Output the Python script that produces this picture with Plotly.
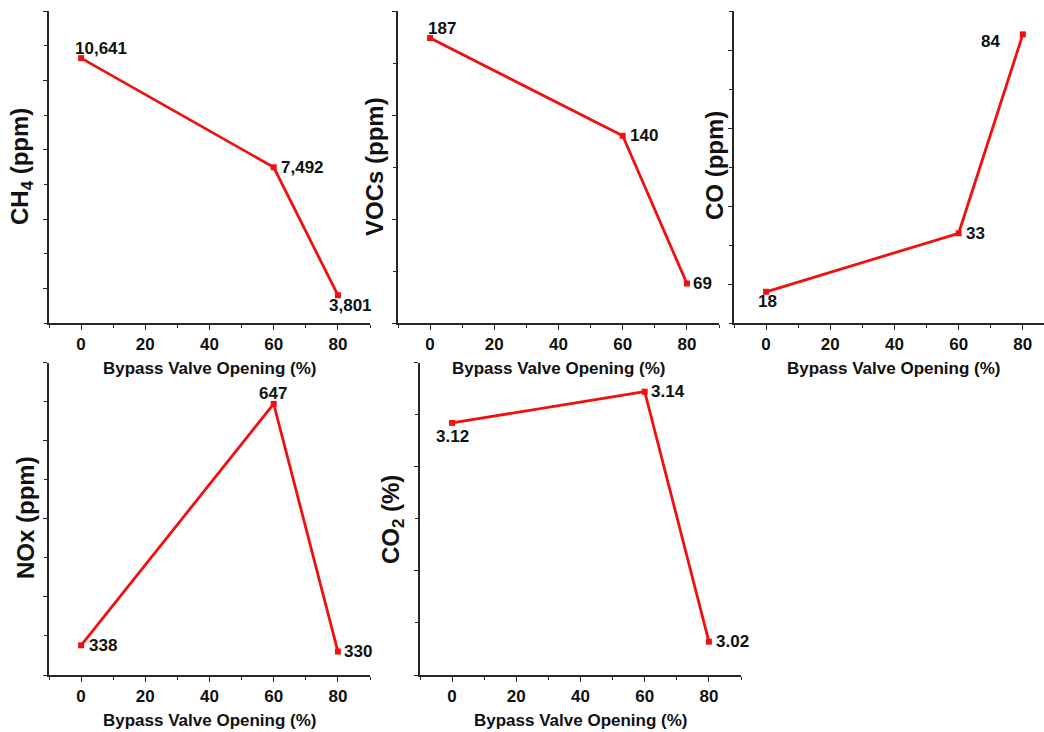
import plotly.graph_objects as go

W, H = 1044, 732

opening = [0, 60, 80]
ch4 = [10641, 7492, 3801]
vocs = [187, 140, 69]
co = [18, 33, 84]
nox = [338, 647, 330]
co2 = [3.121, 3.136, 3.016]

x_tick_vals = [0, 20, 40, 60, 80]
x_tick_text = ["0", "20", "40", "60", "80"]

FONT = "Arial, Liberation Sans, sans-serif"
RED = "#f01010"
AX = "#262626"

def px_x(p):
    return p / W

def px_y(p):
    return 1 - p / H

panels = [
    dict(y=ch4, title="CH<sub>4</sub> (ppm)", xd=(49, 370), yd=(11, 323), xr=[-10, 90], yr=[3000, 12000],
         major=2000, minor=1000, tick0=0, off=[(20, -10), (29, 0), (13, 10)], fmt=lambda v: f"{v:,}",
         tpos=(22, 167)),
    dict(y=vocs, title="VOCs (ppm)", xd=(398, 719), yd=(11, 323), xr=[-10, 90], yr=[50, 200],
         major=50, minor=25, tick0=0, off=[(12, -10), (21, 0), (16, 0)], fmt=lambda v: f"{v}",
         tpos=(375, 167)),
    dict(y=co, title="CO (ppm)", xd=(734, 1044), yd=(11, 323), xr=[-10, 86.6], yr=[10, 90],
         major=20, minor=10, tick0=0, off=[(1, 10), (17, 0), (-32, 7)], fmt=lambda v: f"{v}",
         tpos=(714, 166)),
    dict(y=nox, title="NOx (ppm)", xd=(49, 370), yd=(362.5, 675), xr=[-10, 90], yr=[300, 700],
         major=100, minor=50, tick0=0, off=[(22, 0), (-1, -10), (20, 0)], fmt=lambda v: f"{v}",
         tpos=(25, 518)),
    dict(y=co2, title="CO<sub>2</sub> (%)", xd=(420, 741), yd=(362.5, 675), xr=[-10, 90], yr=[3.0, 3.15],
         major=0.05, minor=0.025, tick0=3.0, off=[(0, 14), (23, 0), (24, 0)], fmt=lambda v: f"{v:.2f}",
         tpos=(392, 520)),
]

fig = go.Figure()
annotations = []
layout = dict(
    width=W, height=H, margin=dict(l=0, r=0, t=0, b=0),
    paper_bgcolor="white", plot_bgcolor="white", showlegend=False,
)

for i, p in enumerate(panels, start=1):
    xa = "x" if i == 1 else f"x{i}"
    ya = "y" if i == 1 else f"y{i}"
    fig.add_trace(go.Scatter(
        x=opening, y=p["y"], mode="lines+markers", xaxis=xa, yaxis=ya,
        line=dict(color=RED, width=2.8),
        marker=dict(symbol="square", size=6, color=RED),
        cliponaxis=False, hoverinfo="x+y",
    ))
    xd = [px_x(p["xd"][0]), min(1.0, px_x(p["xd"][1]))]
    yd = [px_y(p["yd"][1]), px_y(p["yd"][0])]
    layout["xaxis" if i == 1 else f"xaxis{i}"] = dict(
        domain=xd, range=p["xr"], anchor=ya,
        showline=True, linecolor=AX, linewidth=1.5, showgrid=False, zeroline=False,
        ticks="outside", ticklen=5, tickwidth=1.2, tickcolor=AX,
        tickvals=x_tick_vals, ticktext=x_tick_text,
        tickfont=dict(family=FONT, size=17, color="#111", weight="bold"),
        minor=dict(ticks="outside", ticklen=3, tickwidth=1, tickcolor=AX, dtick=10, tick0=0, showgrid=False),
        fixedrange=True,
    )
    layout["yaxis" if i == 1 else f"yaxis{i}"] = dict(
        domain=yd, range=p["yr"], anchor=xa,
        showline=True, linecolor=AX, linewidth=1.5, showgrid=False, zeroline=False,
        ticks="outside", ticklen=4, tickwidth=1.2, tickcolor=AX,
        dtick=p["major"], tick0=p["tick0"], showticklabels=False,
        minor=dict(ticks="outside", ticklen=3, tickwidth=1, tickcolor=AX, dtick=p["minor"], tick0=p["tick0"], showgrid=False),
        fixedrange=True,
    )
    for xv, yv, (dx, dy) in zip(opening, p["y"], p["off"]):
        annotations.append(dict(
            x=xv, y=yv, xref=xa, yref=ya, text=p["fmt"](yv), showarrow=False,
            xanchor="center", yanchor="middle", xshift=dx, yshift=-dy,
            font=dict(family=FONT, size=17, color="#111", weight="bold"),
        ))
    tx, ty = p["tpos"]
    annotations.append(dict(
        x=px_x(tx), y=px_y(ty), xref="paper", yref="paper", text=p["title"], showarrow=False,
        textangle=-90, xanchor="center", yanchor="middle",
        font=dict(family=FONT, size=24, color="#111", weight="bold"),
    ))
    plot_left = p["xd"][0]
    span = p["xr"][1] - p["xr"][0]
    pxw = p["xd"][1] - p["xd"][0] if i != 3 else (1044 - 734)
    cx = plot_left + (40 - p["xr"][0]) / span * pxw
    cy = p["yd"][1] + 45.5
    annotations.append(dict(
        x=px_x(cx), y=px_y(cy), xref="paper", yref="paper", text="Bypass Valve Opening (%)",
        showarrow=False, xanchor="center", yanchor="middle",
        font=dict(family=FONT, size=17, color="#111", weight="bold"),
    ))

layout["annotations"] = annotations
fig.update_layout(**layout)
fig.write_html("out.html")
